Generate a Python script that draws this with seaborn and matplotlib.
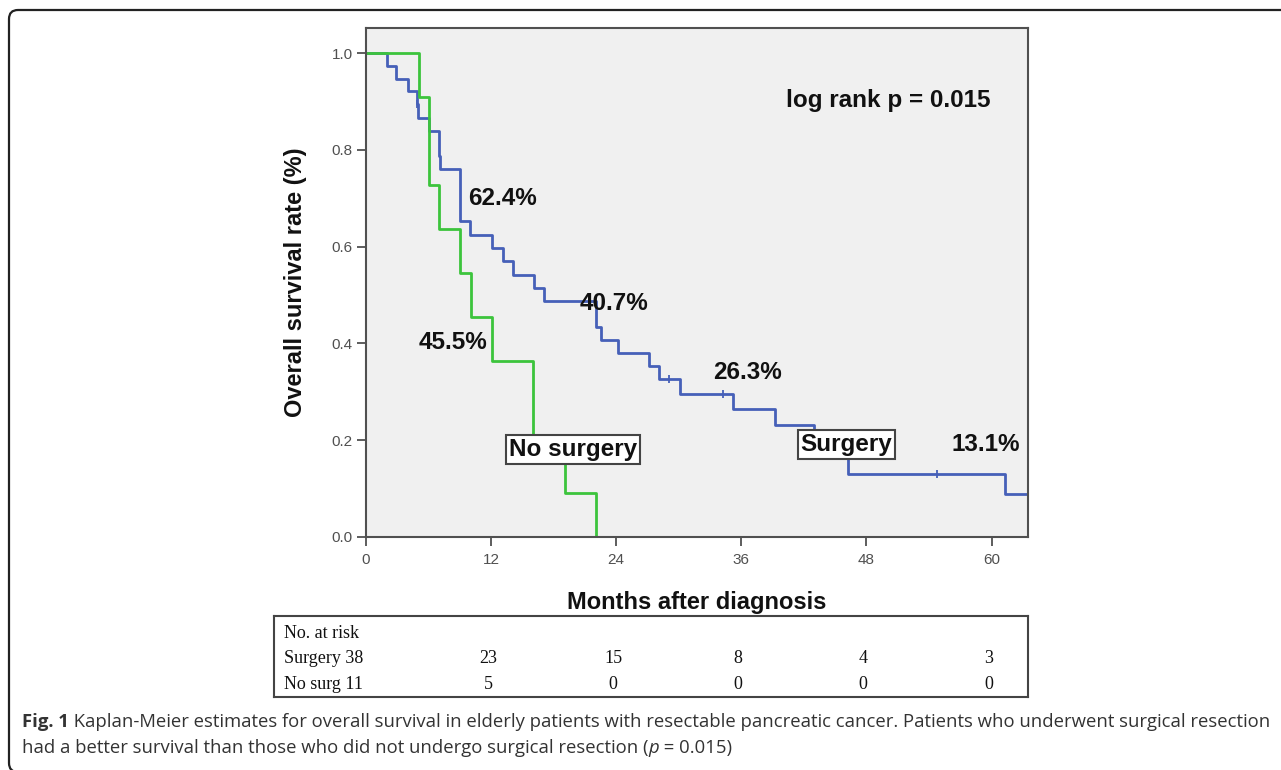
import pandas as pd
import seaborn as sns
import matplotlib.pyplot as plt
from matplotlib.patches import FancyBboxPatch
from matplotlib.transforms import IdentityTransform

# Kaplan-Meier steps (month of step, survival after the step)
surgery_months = [0, 2.0, 2.9, 4.0, 4.9, 5.0, 6.0, 7.0, 7.1, 9.0, 10.0, 12.1, 13.1, 14.1, 16.1, 17.1,
                  22.1, 22.5, 24.2, 27.1, 28.1, 30.1, 35.2, 39.2, 43.0, 44.5, 46.2, 61.3, 63.5]
surgery_surv = [1.0, 0.974, 0.947, 0.921, 0.895, 0.866, 0.840, 0.787, 0.760, 0.653, 0.624, 0.598, 0.570, 0.542, 0.515, 0.488,
                0.434, 0.407, 0.380, 0.353, 0.326, 0.296, 0.264, 0.231, 0.198, 0.165, 0.131, 0.088, 0.088]
nosurg_months = [0, 5.1, 6.05, 7.0, 9.0, 10.05, 12.06, 16.06, 19.1, 22.1]
nosurg_surv = [1.0, 0.909, 0.727, 0.636, 0.545, 0.455, 0.364, 0.182, 0.091, 0.0]

# censored observations (surgery group)
censor_months = [4.9, 29.1, 34.2, 54.8]
censor_surv = [0.895, 0.326, 0.296, 0.131]

# survival rates printed on the plot
pct_labels = ['62.4%', '45.5%', '40.7%', '26.3%', '13.1%']

# number at risk table
risk_months = [12, 24, 36, 48, 60]
risk_surgery = [23, 15, 8, 4, 3]
risk_nosurg = [5, 0, 0, 0, 0]

BLUE = '#4660b8'
GREEN = '#3cc43c'
GREY = '#505050'

sns.set_style("white")
plt.rcParams['font.family'] = ['Liberation Sans', 'DejaVu Sans']
plt.rcParams['text.color'] = '#111111'
plt.rcParams['axes.labelcolor'] = '#111111'

W, H = 1281, 770
fig = plt.figure(figsize=(W / 100, H / 100), dpi=100)


def box(l, t, r, b):
    return [l / W, 1 - b / H, (r - l) / W, (b - t) / H]


ax = fig.add_axes(box(366, 28, 1028, 537))
ax.set_facecolor('#f0f0f0')

df = pd.concat([
    pd.DataFrame({'month': surgery_months, 'surv': surgery_surv, 'group': 'Surgery'}),
    pd.DataFrame({'month': nosurg_months, 'surv': nosurg_surv, 'group': 'No surgery'}),
])
sns.lineplot(data=df, x='month', y='surv', hue='group',
             palette={'Surgery': BLUE, 'No surgery': GREEN},
             estimator=None, sort=False, drawstyle='steps-post', lw=2,
             legend=False, ax=ax)
sns.scatterplot(x=censor_months, y=censor_surv, marker='|', s=40, color=BLUE,
                linewidth=1.3, ax=ax, zorder=3)

ax.set_xlim(0, 63.5)
ax.set_ylim(0, 1.052)
ax.set_xticks([0] + risk_months)
ax.set_yticks([0, 0.2, 0.4, 0.6, 0.8, 1.0])
ax.set_yticklabels(['0.0', '0.2', '0.4', '0.6', '0.8', '1.0'])
ax.tick_params(bottom=True, left=True, direction='out', length=6.5, width=1.3,
               color=GREY, labelcolor=GREY, labelsize=11)
ax.tick_params(axis='x', pad=5)
ax.tick_params(axis='y', pad=3)
for sp in ax.spines.values():
    sp.set_color(GREY)
    sp.set_linewidth(1.5)

ax.set_xlabel('Months after diagnosis', fontsize=17, fontweight='bold')
ax.set_ylabel('Overall survival rate (%)', fontsize=17, fontweight='bold')
ax.xaxis.set_label_coords(0.5, -0.106)
ax.yaxis.set_label_coords(-0.089, 0.5)

txt = dict(fontsize=17.5, fontweight='bold', ha='center', va='center', zorder=5)
pct_pos = [(13.05, 0.70), (8.35, 0.403), (23.8, 0.483), (36.6, 0.341), (59.4, 0.192)]
for lab, (x, y) in zip(pct_labels, pct_pos):
    ax.text(x, y, lab, **txt)
ax.text(50.05, 0.903, 'log rank p = 0.015', **txt)

bb = dict(boxstyle='square,pad=0.12', fc='white', ec='#444444', lw=1.5)
ax.text(19.9, 0.181, 'No surgery', bbox=bb, **txt)
ax.text(46.1, 0.191, 'Surgery', bbox=bb, **txt)

# number at risk table
tax = fig.add_axes(box(274, 616, 1028, 697))
tax.set_xlim(-8.83, 63.5)
tax.set_ylim(0, 1)
tax.set_xticks([])
tax.set_yticks([])
for sp in tax.spines.values():
    sp.set_color('#444444')
    sp.set_linewidth(1.5)
serif = dict(family=['Liberation Serif', 'DejaVu Serif'], fontsize=13, va='center', color='#111111')
tax.text(0.013, 0.78, 'No. at risk', transform=tax.transAxes, **serif)
tax.text(0.013, 0.47, 'Surgery 38', transform=tax.transAxes, **serif)
tax.text(0.013, 0.16, 'No surg 11', transform=tax.transAxes, **serif)
for m, a, b in zip(risk_months, risk_surgery, risk_nosurg):
    tax.text(m - 0.3, 0.47, str(a), ha='center', **serif)
    tax.text(m - 0.3, 0.16, str(b), ha='center', **serif)

# caption
cap = dict(family=['Open Sans', 'DejaVu Sans'], fontsize=13.3, color='#333333', va='center')
t1 = fig.text(22 / W, 1 - 722 / H, 'Fig. 1', fontweight='bold', **cap)
ax.annotate(' Kaplan-Meier estimates for overall survival in elderly patients with resectable pancreatic '
            'cancer. Patients who underwent surgical resection',
            xy=(1, 0.5), xycoords=t1, annotation_clip=False, **cap)
t3 = fig.text(22 / W, 1 - 748 / H, 'had a better survival than those who did not undergo surgical resection (', **cap)
t4 = ax.annotate('p', xy=(1, 0.5), xycoords=t3, annotation_clip=False, style='italic', **cap)
ax.annotate(' = 0.015)', xy=(1, 0.5), xycoords=t4, annotation_clip=False, **cap)

# outer rounded frame
frame = FancyBboxPatch((9, -2), 1300, 762, boxstyle='round,pad=0,rounding_size=9',
                       fc='none', ec='#222222', lw=1.6, transform=IdentityTransform())
fig.add_artist(frame)

fig.savefig('out.png', dpi=100)
